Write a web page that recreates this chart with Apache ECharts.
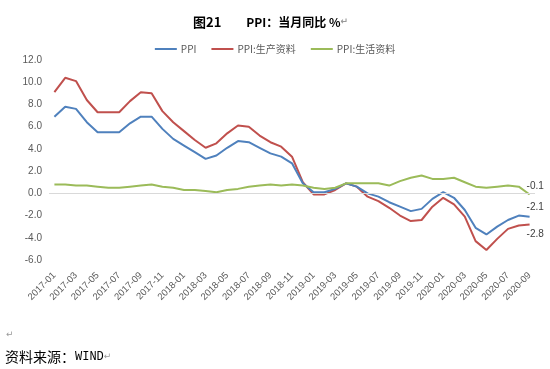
<!DOCTYPE html>
<html><head><meta charset="utf-8">
<script src="https://cdn.jsdelivr.net/npm/echarts@6/dist/echarts.min.js"></script>
<style>html,body{margin:0;padding:0;background:#fff;}#c{width:550px;height:369px;}</style>
</head><body><div id="c"></div>
<script>
const months = ['2017-01','2017-02','2017-03','2017-04','2017-05','2017-06','2017-07','2017-08','2017-09','2017-10','2017-11','2017-12',
'2018-01','2018-02','2018-03','2018-04','2018-05','2018-06','2018-07','2018-08','2018-09','2018-10','2018-11','2018-12',
'2019-01','2019-02','2019-03','2019-04','2019-05','2019-06','2019-07','2019-08','2019-09','2019-10','2019-11','2019-12',
'2020-01','2020-02','2020-03','2020-04','2020-05','2020-06','2020-07','2020-08','2020-09'];
const ppi = [6.9,7.8,7.6,6.4,5.5,5.5,5.5,6.3,6.9,6.9,5.8,4.9,
4.3,3.7,3.1,3.4,4.1,4.7,4.6,4.1,3.6,3.3,2.7,0.9,
0.1,0.1,0.4,0.9,0.6,0.0,-0.3,-0.8,-1.2,-1.6,-1.4,-0.5,
0.1,-0.4,-1.5,-3.1,-3.7,-3.0,-2.4,-2.0,-2.1];
const ppiProducer = [9.1,10.4,10.1,8.4,7.3,7.3,7.3,8.3,9.1,9.0,7.4,6.4,
5.6,4.8,4.1,4.5,5.4,6.1,6.0,5.2,4.6,4.2,3.3,1.0,
-0.1,-0.1,0.3,0.9,0.6,-0.3,-0.7,-1.3,-2.0,-2.5,-2.4,-1.2,
-0.4,-1.0,-2.1,-4.3,-5.1,-4.1,-3.2,-2.9,-2.8];
const ppiConsumer = [0.8,0.8,0.7,0.7,0.6,0.5,0.5,0.6,0.7,0.8,0.6,0.5,
0.3,0.3,0.2,0.1,0.3,0.4,0.6,0.7,0.8,0.7,0.8,0.7,
0.5,0.4,0.5,0.9,0.9,0.9,0.9,0.7,1.1,1.4,1.6,1.3,
1.3,1.4,1.0,0.6,0.5,0.6,0.7,0.6,-0.1];
const seriesNames = ['PPI','PPI:生产资料','PPI:生活资料'];
const colors = ['#4F81BD','#C0504D','#9BBB59'];
const yTicks = {min:-6, max:12, interval:2};

const chart = echarts.init(document.getElementById('c'), null, {renderer:'canvas'});
const labelFont = "'Liberation Sans', Arial, sans-serif";
function mk(name, data, color, offY) {
  return {
    name, type:'line', data, symbol:'none', smooth:false,
    lineStyle:{color, width:2}, itemStyle:{color},
    emphasis:{disabled:true},
    endLabel:{show:true, formatter:p=>p.value.toFixed(1), distance:0, offset:[-3, offY],
      color:'#404040', fontSize:10, fontFamily:labelFont}
  };
}
const s0 = mk(seriesNames[0], ppi, colors[0], -9);
const s1 = mk(seriesNames[1], ppiProducer, colors[1], 10);
const s2 = mk(seriesNames[2], ppiConsumer, colors[2], -8);
s0.markLine = {silent:true, symbol:'none', label:{show:false},
  lineStyle:{color:'#d9d9d9', width:1, type:'solid'}, data:[{yAxis:0}], animation:false};
s0.z = 3; s1.z = 2; s2.z = 4;

chart.setOption({
  animation:false,
  backgroundColor:'#fff',
  title:{
    text:'{a|图21}     {b|PPI：当月同比 %}{c|↵}',
    left:188, top:8,
    textStyle:{rich:{
      a:{fontSize:13, fontWeight:'bold', color:'#000', fontFamily:"'Noto Sans CJK SC', sans-serif"},
      b:{fontSize:12, fontWeight:'bold', color:'#000', fontFamily:"'Noto Sans CJK SC', sans-serif"},
      c:{fontSize:9, color:'#999', fontFamily:"'DejaVu Sans', sans-serif"}
    }}
  },
  legend:{
    data:seriesNames, top:39, left:'center', itemWidth:22, itemHeight:2, itemGap:15,
    textStyle:{fontSize:10, color:'#595959', fontFamily:"'Noto Sans CJK SC', sans-serif", padding:[0,0,0,-1]},
    icon:'rect'
  },
  grid:{left:49, right:15, top:60, bottom:109, containLabel:false},
  xAxis:{
    type:'category', data:months, boundaryGap:true,
    axisLine:{show:false}, axisTick:{show:false},
    axisLabel:{interval:1, rotate:45, margin:14, fontSize:9.5, color:'#595959', fontFamily:labelFont}
  },
  yAxis:{
    type:'value', min:yTicks.min, max:yTicks.max, interval:yTicks.interval,
    axisLine:{show:false}, axisTick:{show:false}, splitLine:{show:false},
    axisLabel:{formatter:v=>v.toFixed(1), fontSize:10, color:'#595959', margin:7, fontFamily:labelFont}
  },
  series:[s0, s1, s2],
  graphic:[
    {type:'text', left:6, top:330, style:{text:'↵', fontSize:9, fill:'#999', fontFamily:"'DejaVu Sans', sans-serif"}},
    {type:'text', left:5, top:350, style:{
      text:'{a|资料来源：}{b|WIND}{c|↵}',
      rich:{
        a:{fontSize:14, fill:'#000', fontFamily:"'Noto Sans CJK SC', sans-serif"},
        b:{fontSize:12, fill:'#000', fontFamily:"'Liberation Mono', monospace"},
        c:{fontSize:9, fill:'#999', fontFamily:"'DejaVu Sans', sans-serif"}
      }}}
  ]
});
</script></body></html>
